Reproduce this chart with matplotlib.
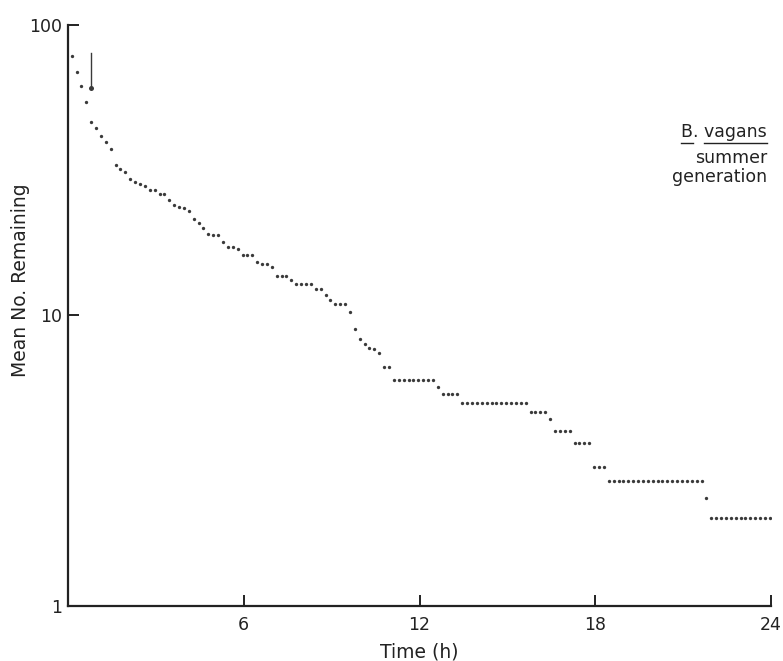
import matplotlib
matplotlib.use('Agg')
import matplotlib.pyplot as plt
import numpy as np

plt.rcParams['font.family'] = ['DejaVu Sans']

# mean number remaining, one reading every 10 min over 24 h
remaining = [78.4, 68.7, 61.5, 54.5, 46.4, 44.1, 41.4, 39.5, 37.3, 32.9,
             31.9, 31.1, 29.5, 28.8, 28.3, 27.8, 27.0, 27.0, 26.2, 26.1,
             25.0, 24.1, 23.6, 23.4, 22.9, 21.5, 20.8, 20.0, 19.1, 18.9,
             18.9, 17.9, 17.2, 17.2, 16.9, 16.2, 16.2, 16.2, 15.3, 15.0,
             15.0, 14.7, 13.7, 13.7, 13.7, 13.2, 12.8, 12.8, 12.8, 12.8,
             12.3, 12.3, 11.8, 11.3, 10.95, 10.95, 10.95, 10.3, 9.0, 8.3,
             8.0, 7.7, 7.65, 7.4, 6.67, 6.67, 6.0, 6.0, 6.0, 6.0,
             6.0, 6.0, 6.0, 6.0, 6.0, 5.66, 5.37, 5.37, 5.37, 5.37,
             5.0, 5.0, 5.0, 5.0, 5.0, 5.0, 5.0, 5.0, 5.0, 5.0,
             5.0, 5.0, 5.0, 5.0, 4.67, 4.67, 4.67, 4.67, 4.39, 4.0,
             4.0, 4.0, 4.0, 3.65, 3.65, 3.65, 3.65, 3.0, 3.0, 3.0,
             2.69, 2.69, 2.69, 2.69, 2.69, 2.69, 2.69, 2.69, 2.69, 2.69,
             2.69, 2.69, 2.69, 2.69, 2.69, 2.69, 2.69, 2.69, 2.69, 2.69,
             2.35, 2.01, 2.01, 2.01, 2.01, 2.01, 2.01, 2.01, 2.01, 2.01,
             2.01, 2.01, 2.01, 2.01]
time_h = (np.arange(1, len(remaining) + 1) * 10 - 2.5) / 60.0

# arrow mark near the start
arrow_t = 0.77
arrow_top = 80.0
arrow_val = 60.5

xticks = [6, 12, 18, 24]
yticks = [1, 10, 100]
ytick_labels = ['1', '10', '100']

ink = '#3a3a3a'
dark = '#222222'

fig = plt.figure(figsize=(7.83, 6.61), dpi=100)
ax = fig.add_axes([0.0868, 0.0832, 0.898, 0.879])

ax.plot(time_h, remaining, 'o', ms=2.4, color=ink, mec='none')
ax.plot([arrow_t, arrow_t], [arrow_top, arrow_val], color=ink, lw=1.0)
ax.plot(arrow_t, arrow_val, 'o', ms=3.6, color=ink, mec='none')

ax.set_yscale('log')
ax.set_xlim(0, 24)
ax.set_ylim(1, 100)
ax.set_xticks(xticks)
ax.set_xticklabels([str(t) for t in xticks])
ax.set_yticks(yticks)
ax.set_yticklabels(ytick_labels)
ax.yaxis.set_minor_locator(matplotlib.ticker.NullLocator())

for s in ['top', 'right']:
    ax.spines[s].set_visible(False)
for s in ['left', 'bottom']:
    ax.spines[s].set_linewidth(1.6)
    ax.spines[s].set_color(dark)

ax.tick_params(direction='in', length=8, width=1.4, color=dark,
               labelsize=12.5, labelcolor=dark)
ax.tick_params(axis='x', pad=7)
ax.tick_params(axis='y', pad=4)

ax.set_xlabel('Time (h)', fontsize=13.5, color=dark, labelpad=6)
ax.set_ylabel('Mean No. Remaining', fontsize=13.5, color=dark)
ax.yaxis.set_label_coords(-0.054, 0.56)

# species label, top right, with the name underlined word by word
x_right = 0.994
fs = 12.5
name = 'B. vagans'
t_name = ax.text(x_right, 0.807, name, transform=ax.transAxes, ha='right',
                 va='baseline', fontsize=fs, color=dark)
ax.text(x_right, 0.762, 'summer', transform=ax.transAxes, ha='right',
        va='baseline', fontsize=fs, color=dark)
ax.text(x_right, 0.730, 'generation', transform=ax.transAxes, ha='right',
        va='baseline', fontsize=fs, color=dark)

renderer = fig.canvas.get_renderer()
bb = t_name.get_window_extent(renderer)
inv = ax.transAxes.inverted()


def prefix_width(s):
    tmp = ax.text(0, 0, s, fontsize=fs)
    w = tmp.get_window_extent(renderer).width
    tmp.remove()
    return w


x0 = bb.x0
w_b = prefix_width('B')
w_gap = prefix_width('B. ')
for a, b in [(x0, x0 + w_b), (x0 + w_gap, bb.x1)]:
    (ax0, _), (ax1, _) = inv.transform([(a, 0), (b, 0)])
    ax.plot([ax0, ax1], [0.797, 0.797], transform=ax.transAxes, color=dark,
            lw=1.0, clip_on=False)

fig.savefig('out.png', dpi=100)
